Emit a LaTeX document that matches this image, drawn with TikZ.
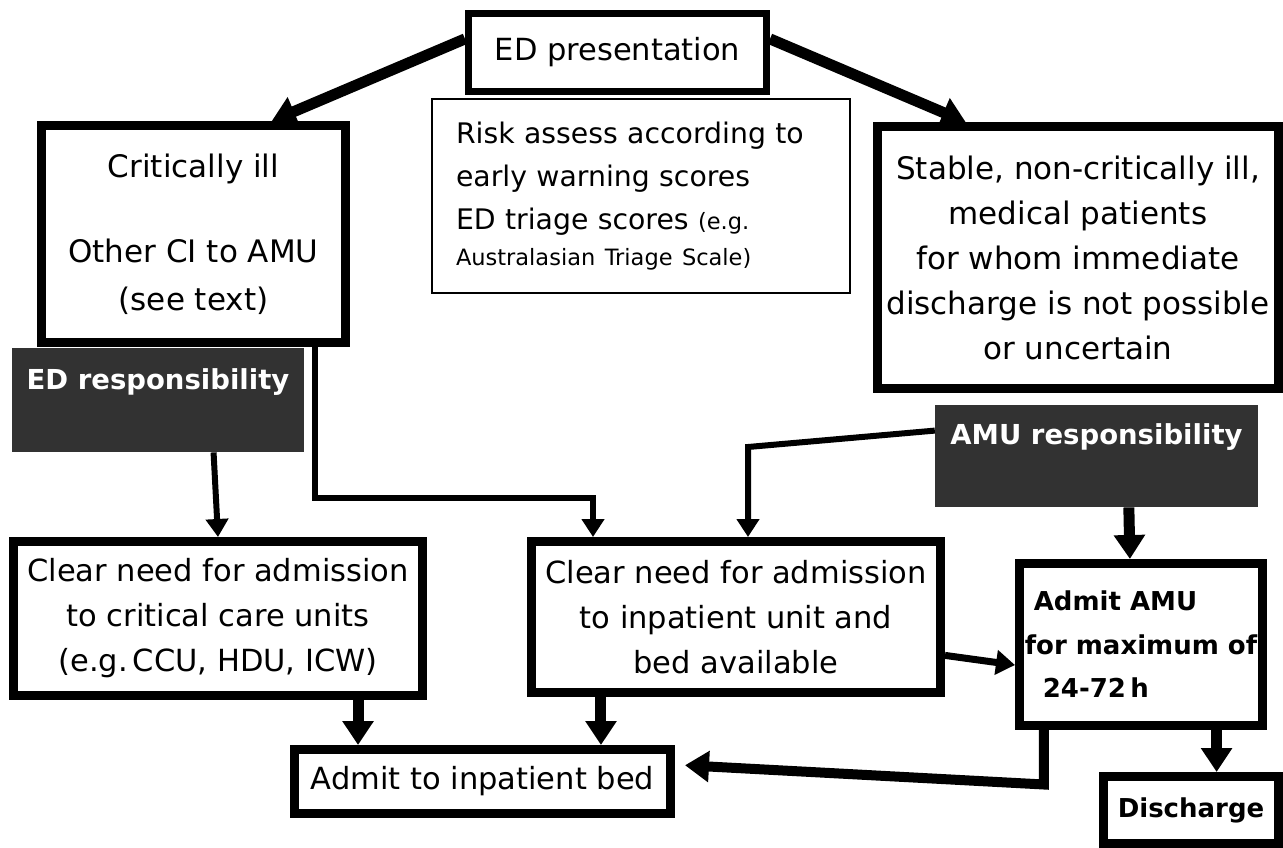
\documentclass[tikz,border=0pt]{standalone}
\usepackage{fontspec}
\setmainfont{DejaVu Sans}
\usetikzlibrary{arrows.meta,calc}
\definecolor{darkfill}{RGB}{50,50,50}
\begin{document}
\begin{tikzpicture}[x=1pt,y=-1pt,line join=miter,
  box/.style={draw, line width=9pt, inner sep=0pt, align=center, font=\fontsize{30.5}{45}\selectfont},
  thinbox/.style={draw, line width=2pt, inner sep=0pt},
  darkbox/.style={fill=darkfill, text=white, inner sep=0pt, anchor=north, font=\bfseries\fontsize{27.5}{30}\selectfont},
  boldbox/.style={box, font=\bfseries\fontsize{26}{43.5}\selectfont},
  thickarrow/.style={line width=11pt, -{Triangle[width=30pt,length=24pt]}},
  midarrow/.style={line width=7pt, -{Triangle[width=24pt,length=19pt]}},
  thinarrow/.style={line width=6pt, -{Triangle[width=22pt,length=18pt]}}]
\useasboundingbox (0,0) rectangle (1283,848);

% boxes
\node[box, line width=7pt, minimum width=298pt, minimum height=78pt] (edp) at (617.5,52.5) {ED presentation};
\node[thinbox, minimum width=418pt, minimum height=194pt, text width=370pt, align=left, inner xsep=23pt,
      font=\fontsize{28.3}{43}\selectfont] (risk) at (641,196)
  {Risk assess according to\\ early warning scores\\ ED triage scores {\fontsize{22.5}{43}\selectfont (e.g.}\\[-7pt]
   {\fontsize{22.5}{43}\selectfont Australasian Triage Scale)}};
\node[box, minimum width=304pt, minimum height=217pt, font=\fontsize{31}{48}\selectfont] (crit) at (193.5,234)
  {Critically ill\\[37pt] Other CI to AMU\\ (see text)};
\node[box, minimum width=401pt, minimum height=262pt, font=\fontsize{31}{45}\selectfont] (stable) at (1078,257.5)
  {Stable, non-critically ill,\\ medical patients\\ for whom immediate\\ discharge is not possible\\ or uncertain};
\node[darkbox, minimum width=292pt, text height=41pt, text depth=63pt] (edr) at (158,348) {ED responsibility};
\node[darkbox, minimum width=323pt, text height=39pt, text depth=63pt] (amur) at (1096.5,405) {AMU responsibility};
\node[box, minimum width=409pt, minimum height=154pt] (ccu) at (218,618.5)
  {Clear need for admission\\ to critical care units\\ (e.g.\,CCU, HDU, ICW)};
\node[box, minimum width=409pt, minimum height=151pt] (inp) at (736,617)
  {Clear need for admission\\ to inpatient unit and\\ bed available};
\node[boldbox, minimum width=243pt, minimum height=162pt, align=left] (amu) at (1141,644.5)
  {\hspace{9pt}Admit AMU\\ for maximum of\\ \hspace{18pt}24-72\,h};
\node[box, minimum width=376pt, minimum height=64pt] (adm) at (482.5,781.5) {Admit to inpatient bed};
\node[boldbox, minimum width=175pt, minimum height=67pt] (dis) at (1191,810) {Discharge};

% connectors
\draw[thickarrow] ($(edp.north west)!0.34!(edp.south west)$) -- ($(crit.north west)!0.75!(crit.north east)$);
\draw[thickarrow] ($(edp.north east)!0.34!(edp.south east)$) -- ($(stable.north west)!0.226!(stable.north east)$);

\draw[thinarrow] ($(edr.south west)!0.69!(edr.south east)$) -- (ccu.north);

\coordinate (b1) at (315,498);
\coordinate (b2) at (593,498);
\draw[thinarrow] (crit.south -| b1) -- (b1) -- (b2) -- (b2 |- inp.north);

\coordinate (b3) at (748,447);
\draw[thinarrow] ($(amur.north west)!0.25!(amur.south west)$) -- (b3) -- (b3 |- inp.north);

\draw[thickarrow] ($(amur.south west)!0.6!(amur.south east)$) -- ($(amu.north west)!0.456!(amu.north east)$);

\draw[midarrow] ($(inp.north east)!0.74!(inp.south east)$) -- ($(amu.north west)!0.62!(amu.south west)$);

\coordinate (c1) at ($(ccu.south west)!0.835!(ccu.south east)$);
\draw[thickarrow] (c1) -- (c1 |- adm.north);
\coordinate (c2) at ($(inp.south west)!0.177!(inp.south east)$);
\draw[thickarrow] (c2) -- (c2 |- adm.north);

\coordinate (c3) at ($(amu.south west)!0.115!(amu.south east)$);
\coordinate (b4) at ($(c3)+(0,54.5)$);
\draw[thickarrow, line width=10pt, shorten >=10pt] (c3) -- (b4) -- ($(adm.north east)!0.27!(adm.south east)$);

\coordinate (c4) at ($(amu.south west)!0.8!(amu.south east)$);
\draw[thickarrow] (c4) -- (c4 |- dis.north);
\end{tikzpicture}
\end{document}
